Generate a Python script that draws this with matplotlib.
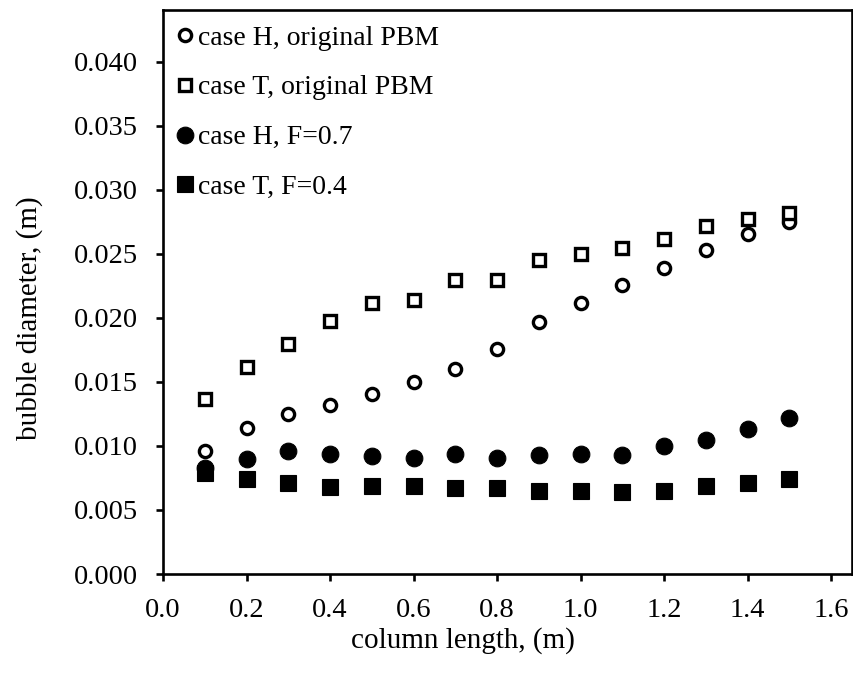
import matplotlib
matplotlib.use("Agg")
import matplotlib.pyplot as plt
import numpy as np

plt.rcParams['font.family'] = ['Liberation Serif', 'DejaVu Serif']

column_length = [0.1, 0.2, 0.3, 0.4, 0.5, 0.6, 0.7, 0.8, 0.9, 1.0, 1.1, 1.2, 1.3, 1.4, 1.5]
case_H_original = [0.0096, 0.0114, 0.0125, 0.0132, 0.0141, 0.0150, 0.0160, 0.0176, 0.0197,
                   0.0212, 0.0226, 0.0239, 0.0253, 0.0266, 0.0275]
case_T_original = [0.0137, 0.0162, 0.0180, 0.0198, 0.0212, 0.0214, 0.0230, 0.0230, 0.0245,
                   0.0250, 0.0255, 0.0262, 0.0272, 0.0277, 0.0282]
case_H_F07 = [0.0083, 0.0090, 0.0096, 0.0094, 0.0092, 0.0091, 0.0094, 0.0091, 0.0093,
              0.0094, 0.0093, 0.0100, 0.0105, 0.0113, 0.0122]
case_T_F04 = [0.0079, 0.0074, 0.0071, 0.0068, 0.0069, 0.0069, 0.0067, 0.0067, 0.0065,
              0.0065, 0.0064, 0.0065, 0.0069, 0.0071, 0.0074]

labels = ["case H, original PBM", "case T, original PBM", "case H, F=0.7", "case T, F=0.4"]
x_ticks = [0.0, 0.2, 0.4, 0.6, 0.8, 1.0, 1.2, 1.4, 1.6]
y_ticks = [0.000, 0.005, 0.010, 0.015, 0.020, 0.025, 0.030, 0.035, 0.040]

fig = plt.figure(figsize=(8.54, 6.81), dpi=100)
ax = fig.add_axes([163/854, 1-574/681, (852-163)/854, (574-10)/681])

ax.plot(column_length, case_H_original, linestyle='none', marker='o', ms=8.8, mew=2.4,
        mfc='white', mec='black', label=labels[0])
ax.plot(column_length, case_T_original, linestyle='none', marker='s', ms=8.8, mew=2.4,
        mfc='white', mec='black', label=labels[1])
ax.plot(column_length, case_H_F07, linestyle='none', marker='o', ms=12.0, mew=0.8,
        mfc='black', mec='black', label=labels[2])
ax.plot(column_length, case_T_F04, linestyle='none', marker='s', ms=11.4, mew=0.8,
        mfc='black', mec='black', label=labels[3])

ax.set_xlim(0, 1.65)
ax.set_ylim(0, 0.04406)
ax.set_xticks(x_ticks)
ax.set_xticklabels([f"{v:.1f}" for v in x_ticks])
ax.set_yticks(y_ticks)
ax.set_yticklabels([f"{v:.3f}" for v in y_ticks])

for s in ax.spines.values():
    s.set_linewidth(1.9)
    s.set_color('black')
ax.tick_params(axis='both', direction='out', length=5, width=1.9, labelsize=20.5, colors='black')
ax.tick_params(axis='y', pad=13)
ax.tick_params(axis='x', pad=12)

fig.text(30/854, 1-318/681, "bubble diameter, (m)", fontsize=21, rotation=90,
         ha='center', va='center')
fig.text(463/854, 1-641/681, "column length, (m)", fontsize=21, ha='center', va='center')

leg = ax.legend(loc='upper left', bbox_to_anchor=(0.0, 1.0 - 4/564), frameon=False, fontsize=20,
                handlelength=0.8, handletextpad=0.05, labelspacing=0.88, borderaxespad=0.2,
                borderpad=0.2)

fig.savefig("out.png", dpi=100)
